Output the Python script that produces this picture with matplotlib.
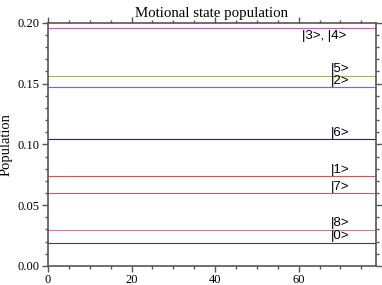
import matplotlib
matplotlib.use("Agg")
import matplotlib.pyplot as plt
from matplotlib.ticker import MultipleLocator

# time axis (start / end of the simulated run)
time = [0, 78.5]

states = ["|3>, |4>", "|5>", "|2>", "|6>", "|1>", "|7>", "|8>", "|0>"]
population = [0.1954, 0.1562, 0.1469, 0.1041, 0.0737, 0.0598, 0.0298, 0.0189]
colors = ["#d84ad8", "#b4b040", "#6a6ae8", "#202098", "#f04848",
          "#a86a70", "#e070a8", "#404040"]
label_x = [60.9, 67.8, 67.8, 67.8, 67.8, 67.8, 67.8, 67.8]
label_above = [False, True, True, True, True, True, True, True]

plt.rcParams["font.family"] = ["Liberation Serif", "DejaVu Serif"]

fig = plt.figure(figsize=(3.82, 2.85), dpi=100)
ax = fig.add_axes([0.1257, 0.0667, 0.8583, 0.8537])

for name, p, c, lx, above in zip(states, population, colors, label_x, label_above):
    ax.plot(time, [p, p], color=c, lw=0.8)
    ax.annotate(name, xy=(lx, p), xytext=(0, 0.5 if above else -1),
                textcoords="offset points", va="bottom" if above else "top",
                ha="left", fontsize=9.5, family="Liberation Sans")

ax.set_xlim(0, 78.5)
ax.set_ylim(0, 0.2)
ax.set_xticks([0, 20, 40, 60])
ax.set_yticks([0, 0.05, 0.10, 0.15, 0.20])
ax.set_yticklabels(["0.00", "0.05", "0.10", "0.15", "0.20"])
ax.xaxis.set_minor_locator(MultipleLocator(5))
ax.yaxis.set_minor_locator(MultipleLocator(0.01))
ax.tick_params(which="both", direction="out", top=True, right=True,
               labelsize=9, color="#555555", width=1, pad=2)
ax.tick_params(which="major", length=4)
ax.tick_params(which="minor", length=2.5)
for s in ax.spines.values():
    s.set_color("#555555")
    s.set_linewidth(1.2)

ax.set_ylabel("Population", fontsize=10.5, labelpad=4)
ax.set_title("Motional state population", fontsize=10.7, pad=4)

fig.savefig("out.png", dpi=100)
